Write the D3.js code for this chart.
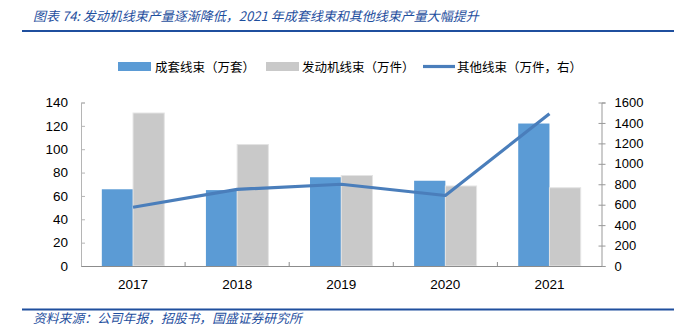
<!DOCTYPE html>
<html><head><meta charset="utf-8">
<script src="https://cdn.jsdelivr.net/npm/d3@7"></script>
<style>body{margin:0;background:#fff}svg{display:block}</style>
</head><body>
<svg id="c" width="674" height="335"></svg>
<script>
const categories = ["2017","2018","2019","2020","2021"];
const chengtao = [65.7, 65, 76, 73, 122];      // 成套线束（万套）
const fadongji = [131, 104, 77.5, 68.5, 67];   // 发动机线束（万件）
const qita = [575, 750, 800, 690, 1490];       // 其他线束（万件，右）
const leftTicks = [0,20,40,60,80,100,120,140];
const rightTicks = [0,200,400,600,800,1000,1200,1400,1600];
const seriesNames = ["成套线束（万套）","发动机线束（万件）","其他线束（万件，右）"];
const titleText = "图表 74:  发动机线束产量逐渐降低，2021 年成套线束和其他线束产量大幅提升";
const sourceText = "资料来源：公司年报，招股书，国盛证券研究所";

const svg = d3.select("#c");
const L = 81, R = 601.5, T = 102.5, B = 266;
const cjk = "'Noto Sans CJK SC', sans-serif";
const num = "'Liberation Sans', Arial, sans-serif";

const x = d3.scaleBand().domain(categories).range([L, R]).paddingInner(0.4).paddingOuter(0.2);
const y = d3.scaleLinear().domain([0,140]).range([B, T]);
const y2 = d3.scaleLinear().domain([0,1600]).range([B, T]);

// title and rules
svg.append("text").attr("x", 33).attr("y", 20.5).attr("fill", "#1f4f9e")
  .attr("font-family", cjk).attr("font-size", 13).attr("font-style", "italic").text(titleText);
svg.append("rect").attr("x", 22).attr("y", 30).attr("width", 652).attr("height", 2).attr("fill", "#1f4f9e");
svg.append("rect").attr("x", 22).attr("y", 308.5).attr("width", 652).attr("height", 2).attr("fill", "#1f4f9e");
svg.append("text").attr("x", 33).attr("y", 322.5).attr("fill", "#1f4f9e")
  .attr("font-family", cjk).attr("font-size", 12.8).attr("font-style", "italic").text(sourceText);

// bars
const bw = x.bandwidth()/2;
svg.append("g").selectAll("rect").data(categories).join("rect")
  .attr("x", d => x(d)).attr("width", bw)
  .attr("y", (d,i) => y(chengtao[i])).attr("height", (d,i) => B - y(chengtao[i]))
  .attr("fill", "#5b9bd5");
svg.append("g").selectAll("rect").data(categories).join("rect")
  .attr("x", d => x(d) + bw).attr("width", bw)
  .attr("y", (d,i) => y(fadongji[i])).attr("height", (d,i) => B - y(fadongji[i]))
  .attr("fill", "#c9c9c9").attr("stroke", "#e4e4e4").attr("stroke-width", 1);

// left axis
const gl = svg.append("g").attr("transform", `translate(${L},0)`)
  .call(d3.axisLeft(y).tickValues(leftTicks).tickSize(-4).tickPadding(13));
gl.select(".domain").attr("stroke", "#b5b5b5");
gl.selectAll(".tick line").attr("stroke", "#b5b5b5");
gl.selectAll("text").attr("font-family", num).attr("font-size", 13.5).attr("fill", "#000");

// right axis
const gr = svg.append("g").attr("transform", `translate(${R},0)`)
  .call(d3.axisRight(y2).tickValues(rightTicks).tickFormat(d3.format("d")).tickSize(4).tickPadding(9));
gr.select(".domain").attr("stroke", "#999");
gr.selectAll(".tick line").attr("stroke", "#999").attr("x1", -3);
gr.selectAll("text").attr("font-family", num).attr("font-size", 13).attr("fill", "#000");

// x axis
const gx = svg.append("g").attr("transform", `translate(0,${B})`)
  .call(d3.axisBottom(x).tickSize(0).tickPadding(13));
gx.select(".domain").attr("stroke", "#8c8c8c");
gx.selectAll("text").attr("font-family", num).attr("font-size", 13.5).attr("fill", "#000");
svg.append("g").selectAll("line").data(categories.slice(1)).join("line")
  .attr("x1", d => x(d) - x.step()*x.paddingInner()/2).attr("x2", d => x(d) - x.step()*x.paddingInner()/2)
  .attr("y1", B).attr("y2", B-4).attr("stroke", "#8c8c8c");

// line
const line = d3.line().x((d,i) => x(categories[i]) + bw).y(d => y2(d));
svg.append("path").datum(qita).attr("d", line).attr("fill", "none")
  .attr("stroke", "#4a7ebb").attr("stroke-width", 3.2).attr("stroke-linejoin", "round");

// legend
const lg = svg.append("g").attr("font-family", cjk).attr("font-size", 12.5).attr("fill", "#000");
lg.append("rect").attr("x", 118).attr("y", 62).attr("width", 33).attr("height", 9).attr("fill", "#5b9bd5");
lg.append("text").attr("x", 155).attr("y", 71.5).text(seriesNames[0]);
lg.append("rect").attr("x", 266).attr("y", 62).attr("width", 33).attr("height", 9).attr("fill", "#c9c9c9");
lg.append("text").attr("x", 302).attr("y", 71.5).text(seriesNames[1]);
lg.append("line").attr("x1", 423).attr("x2", 455).attr("y1", 66.5).attr("y2", 66.5).attr("stroke", "#4a7ebb").attr("stroke-width", 3.2);
lg.append("text").attr("x", 457).attr("y", 71.5).text(seriesNames[2]);
</script>
</body></html>
